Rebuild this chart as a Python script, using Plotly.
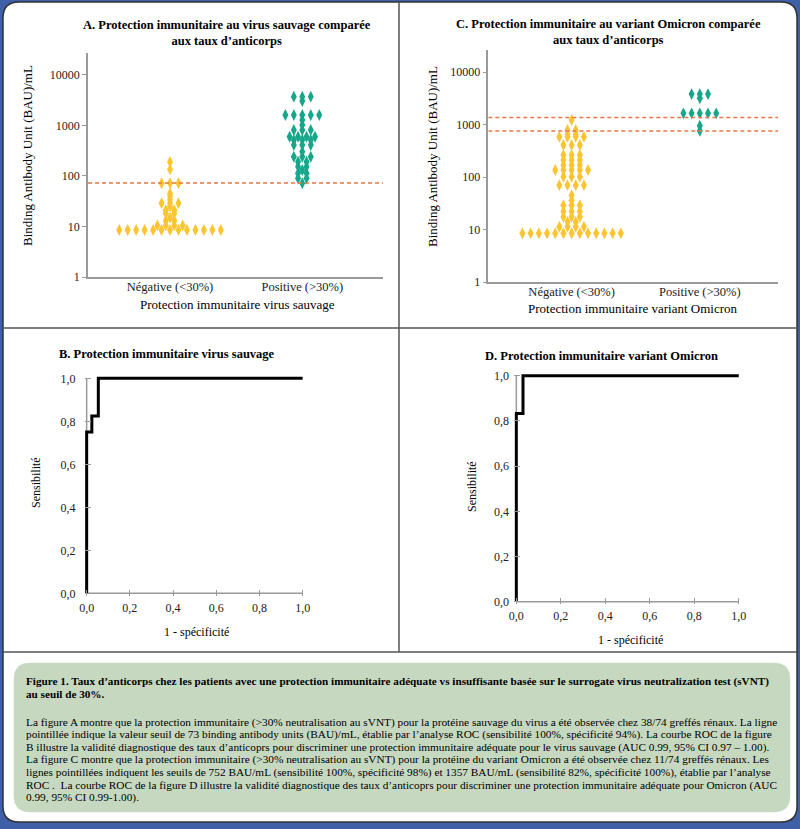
import plotly.graph_objects as go

W, H = 800, 829
def px(x): return x / W
def py(y): return 1 - y / H

# ---------------- data ----------------
categories = ["Négative (<30%)", "Positive (>30%)"]
y_ticks = [1, 10, 100, 1000, 10000]
y_ticktext = ["1", "10", "100", "1000", "10000"]

# Panel A (virus sauvage): antibody levels (BAU/mL) and number of patients at each level
a_neg_levels = [8.5, 10.5, 13, 15, 18, 21, 25, 29, 34, 40, 45, 72, 135, 190]
a_neg_counts = [13, 4, 2, 1, 2, 2, 1, 3, 1, 1, 1, 3, 1, 1]
a_pos_levels = [72, 90, 113, 131, 153, 192, 241, 302, 411, 516, 600, 815, 1023, 1285, 1615, 3055, 3720]
a_pos_counts = [1, 2, 2, 1, 2, 2, 3, 1, 3, 3, 4, 3, 1, 1, 5, 1, 3]
a_cutoffs = [73]

# Panel C (variant Omicron)
c_neg_levels = [8.5, 11.3, 14, 17.5, 22, 29, 36, 45, 70, 101, 136, 169, 211, 263, 407, 586, 650, 785, 1219]
c_neg_counts = [13, 4, 2, 3, 3, 3, 1, 1, 4, 3, 5, 3, 3, 3, 3, 4, 2, 2, 1]
c_pos_levels = [760, 950, 1635, 3170, 3800]
c_pos_counts = [1, 1, 5, 1, 3]
c_cutoffs = [752, 1357]

# ROC curves
roc_b_fpr = [0, 0, 0.024, 0.024, 0.054, 0.054, 1.0]
roc_b_tpr = [0, 0.75, 0.75, 0.825, 0.825, 1.0, 1.0]
roc_d_fpr = [0, 0, 0.03, 0.03, 1.0]
roc_d_tpr = [0, 0.833, 0.833, 1.0, 1.0]
roc_ticks = [0, 0.2, 0.4, 0.6, 0.8, 1.0]
roc_ticktext = ["0,0", "0,2", "0,4", "0,6", "0,8", "1,0"]

YELLOW = "#FBC531"
TEAL = "#16A68A"
DASH = "#E8784A"
AXG = "#9a9a9a"
FONT = "Liberation Serif, Times New Roman, DejaVu Serif, serif"
SPACING = 0.064


def swarm(levels, counts, center):
    xs, ys = [], []
    for v, n in zip(levels, counts):
        for i in range(n):
            xs.append(center + (i - (n - 1) / 2) * SPACING)
            ys.append(v)
    return xs, ys


fig = go.Figure()

MK = dict(symbol="diamond-tall", size=8.5, line=dict(width=0))

# ---------- panel A ----------
for lv, ct, c, col in [(a_neg_levels, a_neg_counts, 0, YELLOW), (a_pos_levels, a_pos_counts, 1, TEAL)]:
    xs, ys = swarm(lv, ct, c)
    fig.add_trace(go.Scatter(x=xs, y=ys, mode="markers", xaxis="x", yaxis="y",
                             marker=dict(MK, color=col), showlegend=False, hoverinfo="skip"))
A_XR = [-0.62, 1.61]
for cval in a_cutoffs:
    fig.add_trace(go.Scatter(x=A_XR, y=[cval, cval], mode="lines", xaxis="x", yaxis="y",
                             line=dict(color=DASH, width=1.5, dash="4px,3px"),
                             showlegend=False, hoverinfo="skip"))

# ---------- panel C ----------
for lv, ct, c, col in [(c_neg_levels, c_neg_counts, 0, YELLOW), (c_pos_levels, c_pos_counts, 1, TEAL)]:
    xs, ys = swarm(lv, ct, c)
    fig.add_trace(go.Scatter(x=xs, y=ys, mode="markers", xaxis="x2", yaxis="y2",
                             marker=dict(MK, color=col), showlegend=False, hoverinfo="skip"))
C_XR = [-0.65, 1.61]
for cval in c_cutoffs:
    fig.add_trace(go.Scatter(x=C_XR, y=[cval, cval], mode="lines", xaxis="x2", yaxis="y2",
                             line=dict(color=DASH, width=1.5, dash="4px,3px"),
                             showlegend=False, hoverinfo="skip"))

# ---------- ROC B / D ----------
fig.add_trace(go.Scatter(x=roc_b_fpr, y=roc_b_tpr, mode="lines", xaxis="x3", yaxis="y3",
                         line=dict(color="black", width=3), showlegend=False, hoverinfo="skip"))
fig.add_trace(go.Scatter(x=roc_d_fpr, y=roc_d_tpr, mode="lines", xaxis="x4", yaxis="y4",
                         line=dict(color="black", width=3), showlegend=False, hoverinfo="skip"))

tickfont = dict(family=FONT, size=12, color="#222")


def log_y(domain):
    return dict(type="log", domain=domain, showline=True, linecolor=AXG, linewidth=1.5,
                ticks="outside", tickcolor=AXG, ticklen=4, tickvals=y_ticks, ticktext=y_ticktext,
                showgrid=False, zeroline=False, tickfont=tickfont, automargin=False)


def cat_x(domain, rng, anchor):
    return dict(domain=domain, range=rng, showline=True, linecolor=AXG, linewidth=1.5,
                tickvals=[0, 1], ticktext=categories, ticks="", showgrid=False, zeroline=False,
                tickfont=dict(family=FONT, size=12.5, color="#222"), anchor=anchor,
                automargin=False, ticklabelstandoff=-3)


def roc_axis(domain, anchor, standoff):
    return dict(domain=domain, range=[-0.01, 1.01], tickvals=roc_ticks, ticktext=roc_ticktext,
                ticks="inside", ticklen=6, tickcolor=AXG, showline=False, showgrid=False,
                zeroline=False, tickfont=tickfont, anchor=anchor, automargin=False,
                ticklabelstandoff=standoff)


fig.update_layout(
    width=W, height=H, autosize=False,
    margin=dict(l=0, r=0, t=0, b=0, pad=0),
    paper_bgcolor="#3F5FA8",
    plot_bgcolor="rgba(0,0,0,0)",
    font=dict(family=FONT),
    xaxis=cat_x([px(88), px(383)], A_XR, "y"),
    yaxis=dict(**log_y([py(277), py(53)]), range=[0, 4.435], anchor="x"),
    xaxis2=cat_x([px(488.3), px(778)], C_XR, "y2"),
    yaxis2=dict(**log_y([py(282), py(50)]), range=[0, 4.42], anchor="x2"),
    xaxis3=roc_axis([px(84.5), px(304.8)], "y3", 3),
    yaxis3=dict(roc_axis([py(595.5), py(374.0)], "x3", 8), range=[-0.01, 1.02]),
    xaxis4=roc_axis([px(514.1), px(741.0)], "y4", 3),
    yaxis4=dict(roc_axis([py(604.0), py(371.2)], "x4", 4), range=[-0.01, 1.02]),
)


def rrect(x0, y0, x1, y1, r):
    pts = [("M", x0 + r, y0), ("L", x1 - r, y0), ("Q", x1, y0, x1, y0 + r), ("L", x1, y1 - r),
           ("Q", x1, y1, x1 - r, y1), ("L", x0 + r, y1), ("Q", x0, y1, x0, y1 - r),
           ("L", x0, y0 + r), ("Q", x0, y0, x0 + r, y0)]
    s = ""
    for p in pts:
        if p[0] == "Q":
            s += f"Q{px(p[1]):.5f},{py(p[2]):.5f} {px(p[3]):.5f},{py(p[4]):.5f} "
        else:
            s += f"{p[0]}{px(p[1]):.5f},{py(p[2]):.5f} "
    return s + "Z"


shapes = [
    dict(type="path", xref="paper", yref="paper", path=rrect(3, 2, 797, 822, 16),
         fillcolor="white", line=dict(color="#333", width=1.5), layer="below"),
    dict(type="path", xref="paper", yref="paper", path=rrect(14, 663, 790, 812, 16),
         fillcolor="#C6D8C0", line=dict(color="#C6D8C0", width=0.5), layer="below"),
    dict(type="line", xref="paper", yref="paper", x0=px(399), x1=px(399), y0=py(2), y1=py(652),
         line=dict(color="#555", width=1.5), layer="below"),
    dict(type="line", xref="paper", yref="paper", x0=px(3), x1=px(797), y0=py(328), y1=py(328),
         line=dict(color="#555", width=1.5), layer="below"),
    dict(type="line", xref="paper", yref="paper", x0=px(3), x1=px(797), y0=py(652), y1=py(652),
         line=dict(color="#555", width=1.5), layer="below"),
]
# ROC axis lines through the data origin
for xa, ya in [("x3", "y3"), ("x4", "y4")]:
    shapes.append(dict(type="line", xref=xa, yref=ya, x0=0, x1=0, y0=0, y1=1,
                       line=dict(color=AXG, width=1.5), layer="below"))
    shapes.append(dict(type="line", xref=xa, yref=ya, x0=0, x1=1, y0=0, y1=0,
                       line=dict(color=AXG, width=1.5), layer="below"))
fig.update_layout(shapes=shapes)

ann = []


def text(x, y, s, size=12, bold=False, xanchor="center", angle=0, yanchor="middle"):
    ann.append(dict(x=px(x), y=py(y), xref="paper", yref="paper", text=f"<b>{s}</b>" if bold else s,
                    showarrow=False, xanchor=xanchor, yanchor=yanchor, textangle=angle,
                    borderpad=0, font=dict(family=FONT, size=size, color="black")))


# titles
text(227, 33, "A. Protection immunitaire au virus sauvage comparée<br>aux taux d’anticorps", size=12.5, bold=True)
text(608, 32, "C. Protection immunitaire au variant Omicron comparée<br>aux taux d’anticorps", size=12.5, bold=True)
text(58, 354, "B. Protection immunitaire virus sauvage", size=12.5, bold=True, xanchor="left")
text(484, 356, "D. Protection immunitaire variant Omicron", size=12.5, bold=True, xanchor="left")

# axis titles
text(28, 156, "Binding Antibody Unit (BAU)/mL", size=13, angle=-90)
text(432, 157, "Binding Antibody Unit (BAU)/mL", size=13, angle=-90)
text(237, 305, "Protection immunitaire virus sauvage", size=13)
text(633, 308, "Protection immunitaire variant Omicron", size=13)
text(196, 632, "1 - spécificité", size=12)
text(630, 640, "1 - spécificité", size=12)
text(36, 483, "Sensibilité", size=12, angle=-90)
text(472, 487, "Sensibilité", size=12, angle=-90)

# caption
bold_lines = [
    "Figure 1. Taux d’anticorps chez les patients avec une protection immunitaire adéquate vs insuffisante basée sur le surrogate virus neutralization test (sVNT)",
    "au seuil de 30%.",
]
body_lines = [
    "La figure A montre que la protection immunitaire (>30% neutralisation au sVNT) pour la protéine sauvage du virus a été observée chez 38/74 greffés rénaux. La ligne",
    "pointillée indique la valeur seuil de 73 binding antibody units (BAU)/mL, établie par l’analyse ROC (sensibilité 100%, spécificité 94%). La courbe ROC de la figure",
    "B illustre la validité diagnostique des taux d’anticoprs pour discriminer une protection immunitaire adéquate pour le virus sauvage (AUC 0.99, 95% CI 0.97 – 1.00).",
    "La figure C montre que la protection immunitaire (>30% neutralisation au sVNT) pour la protéine du variant Omicron a été observée chez 11/74 greffés rénaux. Les",
    "lignes pointillées indiquent les seuils de 752 BAU/mL (sensibilité 100%, spécificité 98%) et 1357 BAU/mL (sensibilité 82%, spécificité 100%), établie par l’analyse",
    "ROC .  La courbe ROC de la figure D illustre la validité diagnostique des taux d’anticoprs pour discriminer une protection immunitaire adéquate pour Omicron (AUC",
    "0.99, 95% CI 0.99-1.00).",
]
for i, s in enumerate(bold_lines):
    text(25, 681 + i * 12.8, s, size=11.2, bold=True, xanchor="left")
for i, s in enumerate(body_lines):
    text(25, 722 + i * 12.6, s, size=11.3, xanchor="left")

fig.update_layout(annotations=ann)
fig.write_html("out.html", config={"displayModeBar": False},
               post_script="document.body.style.margin='0';document.body.style.overflow='hidden';")
